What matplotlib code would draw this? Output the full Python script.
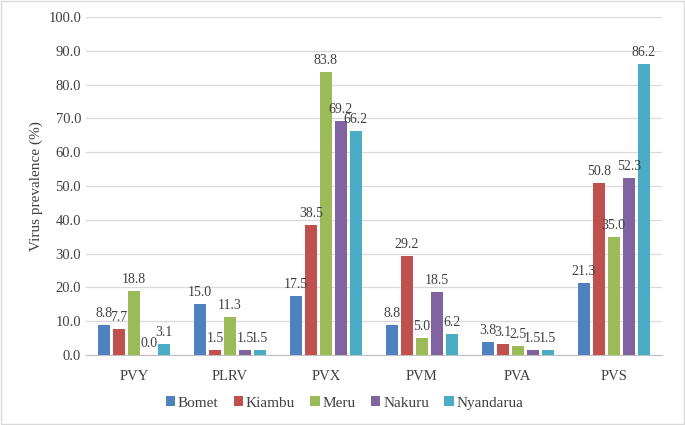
import numpy as np
import matplotlib.pyplot as plt
from matplotlib.patches import Rectangle

plt.rcParams['font.family'] = ['Liberation Serif', 'DejaVu Serif']

viruses = ["PVY", "PLRV", "PVX", "PVM", "PVA", "PVS"]
counties = ["Bomet", "Kiambu", "Meru", "Nakuru", "Nyandarua"]
bomet = [8.8, 15.0, 17.5, 8.8, 3.8, 21.3]
kiambu = [7.7, 1.5, 38.5, 29.2, 3.1, 50.8]
meru = [18.8, 11.3, 83.8, 5.0, 2.5, 35.0]
nakuru = [0.0, 1.5, 69.2, 18.5, 1.5, 52.3]
nyandarua = [3.1, 1.5, 66.2, 6.2, 1.5, 86.2]
series = [bomet, kiambu, meru, nakuru, nyandarua]
colors = ["#4F81BD", "#C0504D", "#9BBB59", "#8064A2", "#4BACC6"]

fig = plt.figure(figsize=(6.85, 4.25), dpi=100)
ax = fig.add_axes([0.1255, 0.165, 0.8405, 0.795])

x = np.arange(len(viruses))
w = 0.125
pitch = 0.156
for i, (vals, c, name) in enumerate(zip(series, colors, counties)):
    pos = x + (i - 2) * pitch
    ax.bar(pos, vals, width=w, color=c, label=name, zorder=3)
    for p, v in zip(pos, vals):
        ax.text(p, v + 1.5, "%.1f" % v, ha="center", va="bottom",
                fontsize=10, color="#404040", zorder=4)

ax.set_ylim(0, 100)
ax.set_xlim(-0.5, len(viruses) - 0.5)
ax.set_yticks(np.arange(0, 101, 10))
ax.set_yticklabels(["%.1f" % t for t in np.arange(0, 101, 10)])
ax.set_xticks(x)
ax.set_xticklabels(viruses)
ax.tick_params(axis="both", length=0, labelsize=10.5, colors="#404040")
ax.tick_params(axis="x", pad=11)
ax.grid(axis="y", color="#D9D9D9", linewidth=0.9, zorder=0)
for s in ["top", "right", "left"]:
    ax.spines[s].set_visible(False)
ax.spines["bottom"].set_color("#BFBFBF")
ax.set_ylabel("Virus prevalence (%)", fontsize=11, color="#404040")

fig.legend(*ax.get_legend_handles_labels(), loc="center",
           bbox_to_anchor=(0.503, 0.052), ncol=5,
           frameon=False, fontsize=11, handlelength=0.6, handleheight=0.6,
           handletextpad=0.2, columnspacing=1.0, labelcolor="#404040")

fig.patches.append(Rectangle((0.002, 0.002), 0.996, 0.996, transform=fig.transFigure,
                             fill=False, edgecolor="#D9D9D9", linewidth=1))

fig.savefig("out.png", dpi=100)
